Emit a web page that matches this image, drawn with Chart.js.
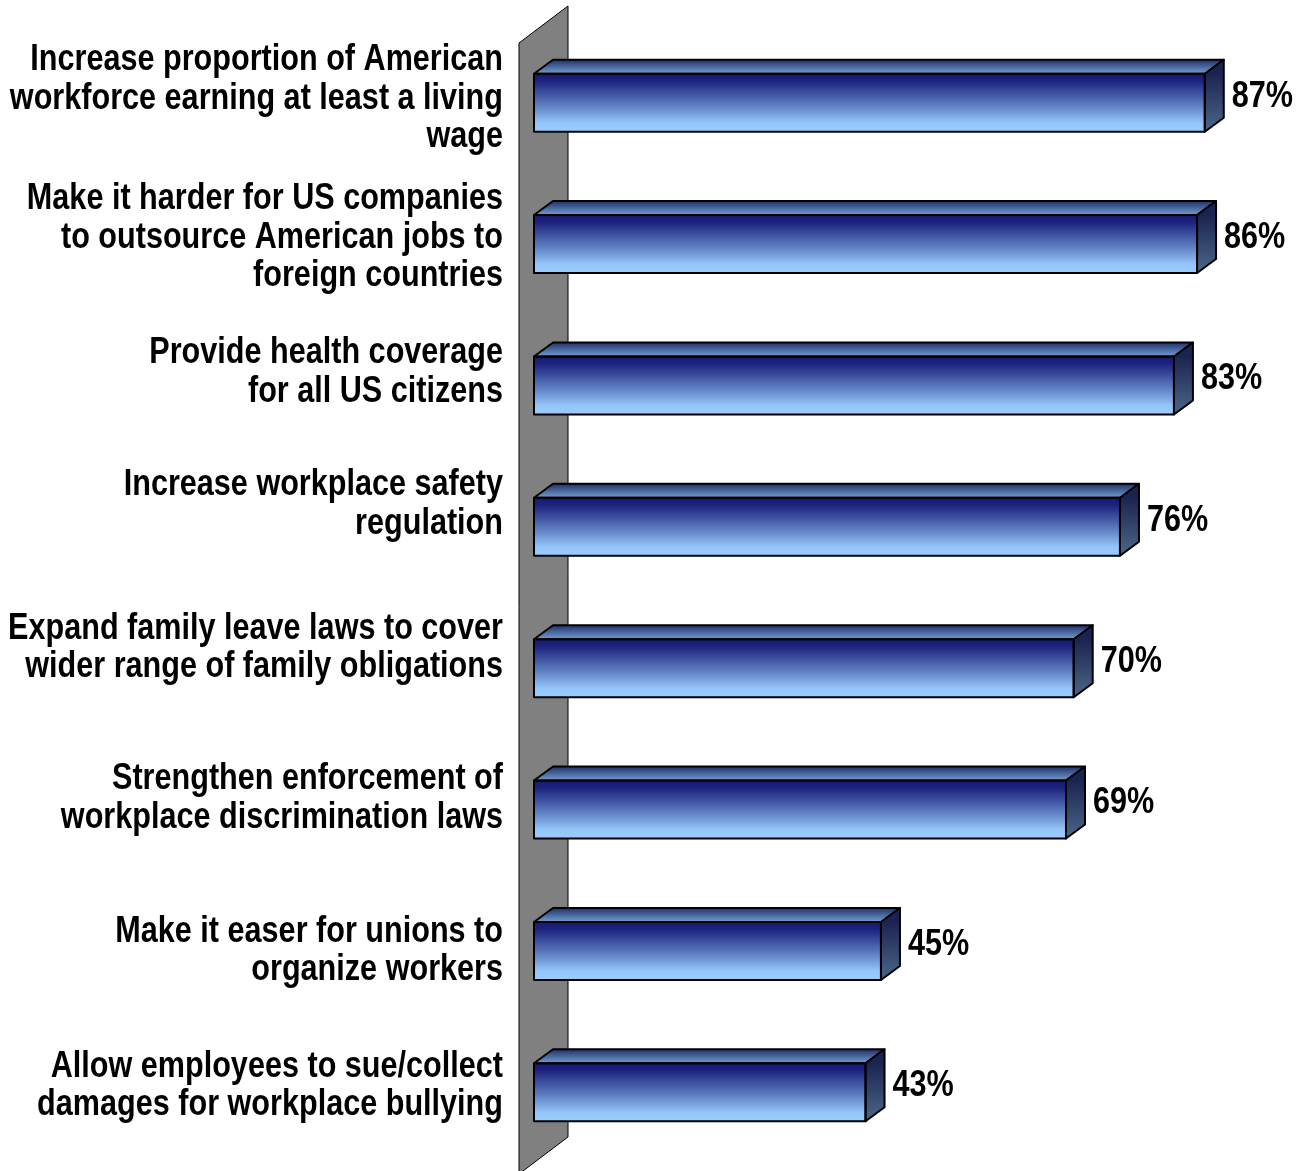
<!DOCTYPE html>
<html>
<head>
<meta charset="utf-8">
<script src="https://cdn.jsdelivr.net/npm/chart.js@4.4.0/dist/chart.umd.min.js"></script>
<style>
  html, body { margin: 0; padding: 0; background: #fff; }
  #wrap { width: 1305px; height: 1171px; position: relative; }
</style>
</head>
<body>
<div id="wrap"><canvas id="chart"></canvas></div>
<script>
const categories = [
    ["Increase proportion of American", "workforce earning at least a living", "wage"],
    ["Make it harder for US companies", "to outsource American jobs to", "foreign countries"],
    ["Provide health coverage", "for all US citizens"],
    ["Increase workplace safety", "regulation"],
    ["Expand family leave laws to cover", "wider range of family obligations"],
    ["Strengthen enforcement of", "workplace discrimination laws"],
    ["Make it easer for unions to", "organize workers"],
    ["Allow employees to sue/collect", "damages for workplace bullying"]
]
const values = [87, 86, 83, 76, 70, 69, 45, 43]
const valueLabels = ["87%", "86%", "83%", "76%", "70%", "69%", "45%", "43%"]
// small vertical nudge of each category label (px), as placed in the original
const labelNudge = [-4, -6, -13, -22, -20, -11, 0, -6]

// no Arial Narrow here, so squeeze Liberation Sans horizontally
const FONT = "bold 36px 'Liberation Sans', Arial, sans-serif"
const NARROW = 0.85
const DEPTH_X = 19, DEPTH_Y = -14
const BAR_H = 58

function narrowText(ctx, text, x, y, align) {
    ctx.save()
    ctx.translate(x, y)
    ctx.scale(NARROW, 1)
    ctx.textAlign = align
    ctx.fillText(text, 0, 0)
    ctx.restore()
}

function frontGradient(ctx, y) {
    const g = ctx.createLinearGradient(0, y - BAR_H / 2, 0, y + BAR_H / 2)
    g.addColorStop(0, '#161a74')
    g.addColorStop(0.12, '#1c227e')
    g.addColorStop(0.55, '#5f7fc2')
    g.addColorStop(0.85, '#95c6fa')
    g.addColorStop(1, '#99ccff')
    return g
}

const wallPlugin = {
    id: 'wall',
    beforeDatasetsDraw(chart) {
        const ctx = chart.ctx
        const x0 = chart.scales.x.getPixelForValue(0)
        const area = chart.chartArea
        ctx.save()
        ctx.beginPath()
        ctx.moveTo(x0 - 15, area.top + 11)
        ctx.lineTo(x0 + 34, area.top - 26)
        ctx.lineTo(x0 + 34, area.bottom - 26)
        ctx.lineTo(x0 - 15, area.bottom + 11)
        ctx.closePath()
        ctx.fillStyle = '#808080'
        ctx.fill()
        ctx.lineWidth = 1
        ctx.strokeStyle = '#000'
        ctx.stroke()
        ctx.restore()
    }
}

const boxPlugin = {
    id: 'box3d',
    afterDatasetsDraw(chart) {
        const ctx = chart.ctx
        const meta = chart.getDatasetMeta(0)
        ctx.save()
        ctx.lineWidth = 2
        ctx.strokeStyle = '#000'
        ctx.lineJoin = 'round'
        meta.data.forEach((bar, i) => {
            const top = bar.y - bar.height / 2
            const bot = bar.y + bar.height / 2
            // front face
            ctx.fillStyle = frontGradient(ctx, bar.y)
            ctx.fillRect(bar.base, top, bar.x - bar.base, bot - top)
            // top face
            let g = ctx.createLinearGradient(0, top + DEPTH_Y, 0, top)
            g.addColorStop(0, '#22306a')
            g.addColorStop(1, '#719fd0')
            ctx.beginPath()
            ctx.moveTo(bar.base, top)
            ctx.lineTo(bar.base + DEPTH_X, top + DEPTH_Y)
            ctx.lineTo(bar.x + DEPTH_X, top + DEPTH_Y)
            ctx.lineTo(bar.x, top)
            ctx.closePath()
            ctx.fillStyle = g
            ctx.fill()
            ctx.stroke()
            // side face
            g = ctx.createLinearGradient(0, top, 0, bot)
            g.addColorStop(0, '#1b2450')
            g.addColorStop(1, '#4c6888')
            ctx.beginPath()
            ctx.moveTo(bar.x, top)
            ctx.lineTo(bar.x + DEPTH_X, top + DEPTH_Y)
            ctx.lineTo(bar.x + DEPTH_X, bot + DEPTH_Y)
            ctx.lineTo(bar.x, bot)
            ctx.closePath()
            ctx.fillStyle = g
            ctx.fill()
            ctx.stroke()
            // front outline
            ctx.strokeRect(bar.base, top, bar.x - bar.base, bot - top)
            // value label
            ctx.fillStyle = '#000'
            ctx.font = FONT
            ctx.textBaseline = 'middle'
            narrowText(ctx, valueLabels[i], bar.x + DEPTH_X + 8, bar.y - 6, 'left')
        })
        ctx.restore()
    }
}

const labelPlugin = {
    id: 'catLabels',
    afterDraw(chart) {
        const ctx = chart.ctx
        const yScale = chart.scales.y
        const right = chart.chartArea.left - 31
        const lineH = 38.5
        ctx.save()
        ctx.font = FONT
        ctx.fillStyle = '#000'
        ctx.textBaseline = 'middle'
        categories.forEach((lines, i) => {
            const cy = yScale.getPixelForValue(i) + labelNudge[i]
            const start = cy - (lines.length - 1) * lineH / 2
            lines.forEach((t, k) => narrowText(ctx, t, right, start + k * lineH, 'right'))
        })
        ctx.restore()
    }
}

new Chart(document.getElementById('chart'), {
    type: 'bar',
    data: {
        labels: categories,
        datasets: [{
            data: values,
            barThickness: BAR_H,
            borderWidth: 0,
            backgroundColor: '#5f7fc2'
        }]
    },
    options: {
        indexAxis: 'y',
        responsive: true,
        maintainAspectRatio: false,
        animation: false,
        layout: { padding: { left: 534, right: 0, top: 32, bottom: 8 } },
        plugins: {
            legend: { display: false },
            tooltip: { enabled: false }
        },
        scales: {
            x: { display: false, min: 0, max: 100 },
            y: { display: false }
        }
    },
    plugins: [wallPlugin, boxPlugin, labelPlugin]
});
</script>
</body>
</html>
